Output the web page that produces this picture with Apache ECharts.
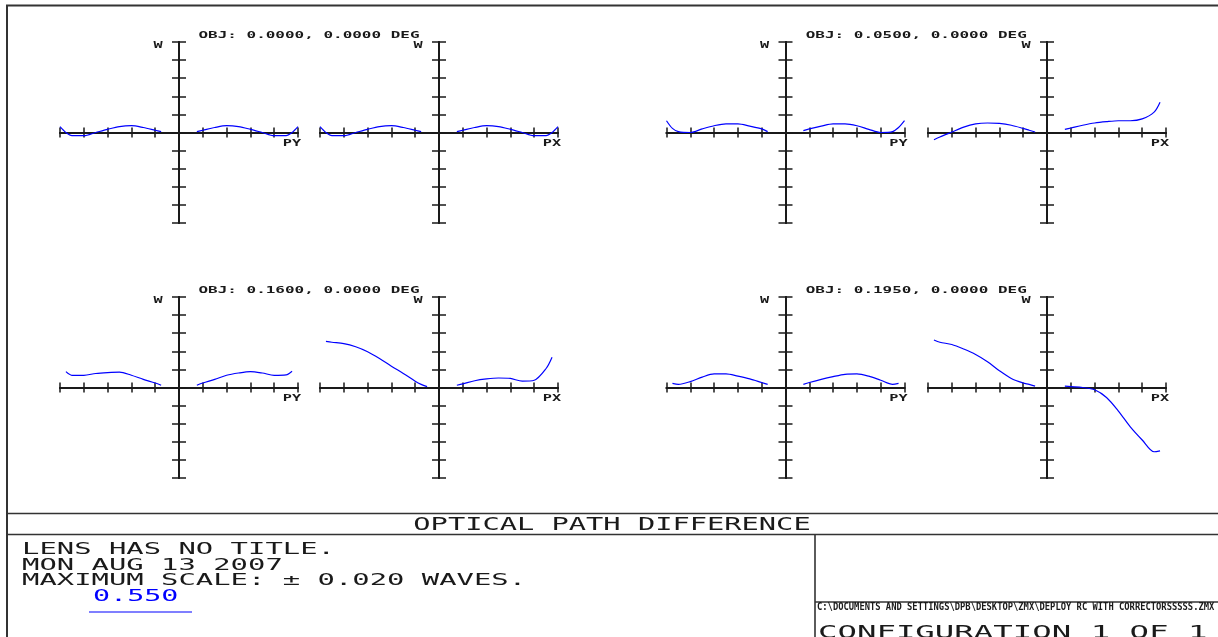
<!DOCTYPE html>
<html>
<head>
<meta charset="utf-8">
<script src="https://cdn.jsdelivr.net/npm/echarts@6/dist/echarts.min.js"></script>
<style>
html,body{margin:0;padding:0;background:#fff;}
#chart{width:1218px;height:637px;}
</style>
</head>
<body>
<div id="chart"></div>
<script>
// ---------------- data ----------------
const pupil = [-1, -0.95, -0.9, -0.8, -0.7, -0.6, -0.5, -0.4, -0.3, -0.2, -0.15, -0.1, 0,
               0.1, 0.15, 0.2, 0.3, 0.4, 0.5, 0.6, 0.7, 0.8, 0.9, 0.95, 1];

const fieldTitles = ['OBJ: 0.0000, 0.0000 DEG', 'OBJ: 0.0500, 0.0000 DEG',
                     'OBJ: 0.1600, 0.0000 DEG', 'OBJ: 0.1950, 0.0000 DEG'];
const fanLabels = ['PY', 'PX'];
const waveLabel = 'W';

// OPD in waves, aligned with pupil (null = no ray / gap)
const f1PY = [0.0013, 0.0000, -0.0007, -0.0007, 0.0000, 0.0007, 0.0013, 0.0015, 0.0011, 0.0005, 0.0002, null, null,
              null, 0.0002, 0.0005, 0.0011, 0.0015, 0.0013, 0.0007, 0.0000, -0.0007, -0.0007, 0.0000, 0.0013];
const f1PX = [0.0013, 0.0000, -0.0007, -0.0007, 0.0000, 0.0007, 0.0013, 0.0015, 0.0011, 0.0005, 0.0002, null, null,
              null, 0.0002, 0.0005, 0.0011, 0.0015, 0.0013, 0.0007, 0.0000, -0.0007, -0.0007, 0.0000, 0.0013];
const f2PY = [0.0026, 0.0009, 0.0002, 0.0000, 0.0008, 0.0015, 0.0019, 0.0019, 0.0014, 0.0008, 0.0002, null, null,
              null, 0.0004, 0.0008, 0.0014, 0.0019, 0.0019, 0.0015, 0.0007, 0.0000, 0.0002, 0.0011, 0.0026];
const f2PX = [null, -0.0016, -0.0010, 0.0001, 0.0012, 0.0019, 0.0021, 0.0020, 0.0016, 0.0009, 0.0005, 0.0001, null,
              null, 0.0007, 0.0010, 0.0016, 0.0021, 0.0024, 0.0026, 0.0026, 0.0030, 0.0045, 0.0067, null];
const f3PY = [null, 0.0035, 0.0027, 0.0027, 0.0031, 0.0033, 0.0034, 0.0027, 0.0018, 0.0010, 0.0005, null, null,
              null, 0.0005, 0.0010, 0.0018, 0.0027, 0.0032, 0.0035, 0.0032, 0.0027, 0.0028, 0.0036, null];
const f3PX = [null, 0.0102, 0.0100, 0.0097, 0.0090, 0.0079, 0.0064, 0.0047, 0.0031, 0.0014, 0.0007, 0.0002, null,
              null, 0.0005, 0.0008, 0.0015, 0.0019, 0.0021, 0.0020, 0.0014, 0.0016, 0.0042, 0.0067, null];
const f4PY = [null, 0.0009, 0.0007, 0.0013, 0.0023, 0.0030, 0.0030, 0.0025, 0.0019, 0.0011, 0.0007, null, null,
              null, 0.0007, 0.0011, 0.0018, 0.0024, 0.0029, 0.0030, 0.0025, 0.0016, 0.0007, 0.0009, null];
const f4PX = [null, 0.0105, 0.0100, 0.0095, 0.0085, 0.0073, 0.0057, 0.0037, 0.0020, 0.0010, 0.0007, 0.0003, null,
              null, 0.0003, 0.0002, 0.0000, -0.0005, -0.0022, -0.0052, -0.0087, -0.0116, -0.0142, -0.0140, null];

// axis scales
const pupilMin = -1, pupilMax = 1, pupilStep = 0.2;
const wMin = -0.02, wMax = 0.02, wStep = 0.004;

// texts
const headerLines = ['LENS HAS NO TITLE.', 'MON AUG 13 2007', 'MAXIMUM SCALE: \u00B1 0.020 WAVES.'];
const wavelengthText = '0.550';
const plotName = 'OPTICAL PATH DIFFERENCE';
const filePath = 'C:\\DOCUMENTS AND SETTINGS\\DPB\\DESKTOP\\ZMX\\DEPLOY RC WITH CORRECTORSSSSS.ZMX';
const configText = 'CONFIGURATION 1 OF 1';

// ---------------- layout ----------------
const colLeft = [60, 320, 666.5, 928];
const rowTop = [42, 297];
const gw = 238, gh = 181;
const panels = [
  {vals: f1PY, c: 0, r: 0, lab: 0}, {vals: f1PX, c: 1, r: 0, lab: 1},
  {vals: f2PY, c: 2, r: 0, lab: 0}, {vals: f2PX, c: 3, r: 0, lab: 1},
  {vals: f3PY, c: 0, r: 1, lab: 0}, {vals: f3PX, c: 1, r: 1, lab: 1},
  {vals: f4PY, c: 2, r: 1, lab: 0}, {vals: f4PX, c: 3, r: 1, lab: 1}
];

const INK = '#1a1a1a';
const BLUE = '#0000ff';
const MONO = '"DejaVu Sans Mono", monospace';

const grid = [], xAxis = [], yAxis = [], series = [];
panels.forEach((p, i) => {
  grid.push({left: colLeft[p.c], top: rowTop[p.r], width: gw, height: gh, containLabel: false});
  [false, true].forEach((inside) => {
    xAxis.push({
      type: 'value', gridIndex: i, min: pupilMin, max: pupilMax, interval: pupilStep,
      position: 'bottom',
      axisLine: {show: true, onZero: true, lineStyle: {color: INK, width: 2}},
      axisTick: {show: true, inside: inside, length: 5, lineStyle: {color: INK, width: 1.5}},
      axisLabel: {show: false}, splitLine: {show: false}
    });
    yAxis.push({
      type: 'value', gridIndex: i, min: wMin, max: wMax, interval: wStep,
      position: 'left',
      axisLine: {show: true, onZero: true, lineStyle: {color: INK, width: 2}},
      axisTick: {show: true, inside: inside, length: 7, lineStyle: {color: INK, width: 1.5}},
      axisLabel: {show: false}, splitLine: {show: false}
    });
  });
  series.push({
    type: 'line', xAxisIndex: 2 * i, yAxisIndex: 2 * i,
    data: pupil.map((pp, k) => [pp, p.vals[k]]),
    showSymbol: false, smooth: 0.3, connectNulls: false,
    lineStyle: {color: BLUE, width: 1.2}, z: 5, silent: true
  });
});

function txt(str, x, y, fs, sx, align, color, weight) {
  return {
    type: 'text', x: x, y: y, scaleX: sx, scaleY: 1, silent: true,
    style: {
      text: str, x: 0, y: 0, font: (weight || 'normal') + ' ' + fs + 'px ' + MONO,
      fill: color || INK, textAlign: align, textVerticalAlign: 'middle',
      align: align, verticalAlign: 'middle'
    }
  };
}
function line(x1, y1, x2, y2, color, w) {
  return {type: 'line', silent: true, shape: {x1, y1, x2, y2},
          style: {stroke: color || '#333', lineWidth: w || 2}};
}

const graphic = [];
// panel labels
panels.forEach((p) => {
  const left = colLeft[p.c], top = rowTop[p.r];
  graphic.push(txt(waveLabel, left + gw / 2 - 21, top + 3.5, 9.5, 1.6, 'center', INK, 'bold'));
  graphic.push(txt(fanLabels[p.lab], left + gw - 6, top + gh / 2 + 11, 9.5, 1.6, 'center', INK, 'bold'));
});
// field titles
for (let f = 0; f < 4; f++) {
  const c = (f % 2) * 2, r = Math.floor(f / 2);
  const cx = (colLeft[c] + colLeft[c + 1]) / 2 + gw / 2;
  graphic.push(txt(fieldTitles[f], cx, rowTop[r] - 6.5, 9.5, 1.68, 'center', INK, 'bold'));
}
// frame
graphic.push(line(6, 5.5, 1218, 5.5, '#333', 2));
graphic.push(line(7, 5, 7, 637, '#333', 2));
graphic.push(line(7, 513.5, 1218, 513.5, '#333', 1.6));
graphic.push(line(7, 534.5, 1218, 534.5, '#333', 1.6));
graphic.push(line(815, 534.5, 815, 637, '#333', 1.6));
graphic.push(line(815, 602, 1218, 602, '#333', 1.6));
// bottom texts
graphic.push(txt(plotName, 612, 525.5, 17.4, 1.65, 'center'));
headerLines.forEach((s, k) => graphic.push(txt(s, 22, 550 + k * 15.5, 16.5, 1.75, 'left')));
graphic.push(txt(wavelengthText, 93, 597, 16.5, 1.72, 'left', BLUE));
graphic.push(line(89, 612, 192, 612, BLUE, 1.2));
graphic.push(txt(filePath, 817, 607.5, 11, 0.80, 'left', INK, 'bold'));
graphic.push(txt(configText, 818, 633.5, 17.4, 1.86, 'left'));

const chart = echarts.init(document.getElementById('chart'));
chart.setOption({
  animation: false,
  backgroundColor: '#ffffff',
  grid: grid, xAxis: xAxis, yAxis: yAxis, series: series,
  graphic: graphic
});
</script>
</body>
</html>
